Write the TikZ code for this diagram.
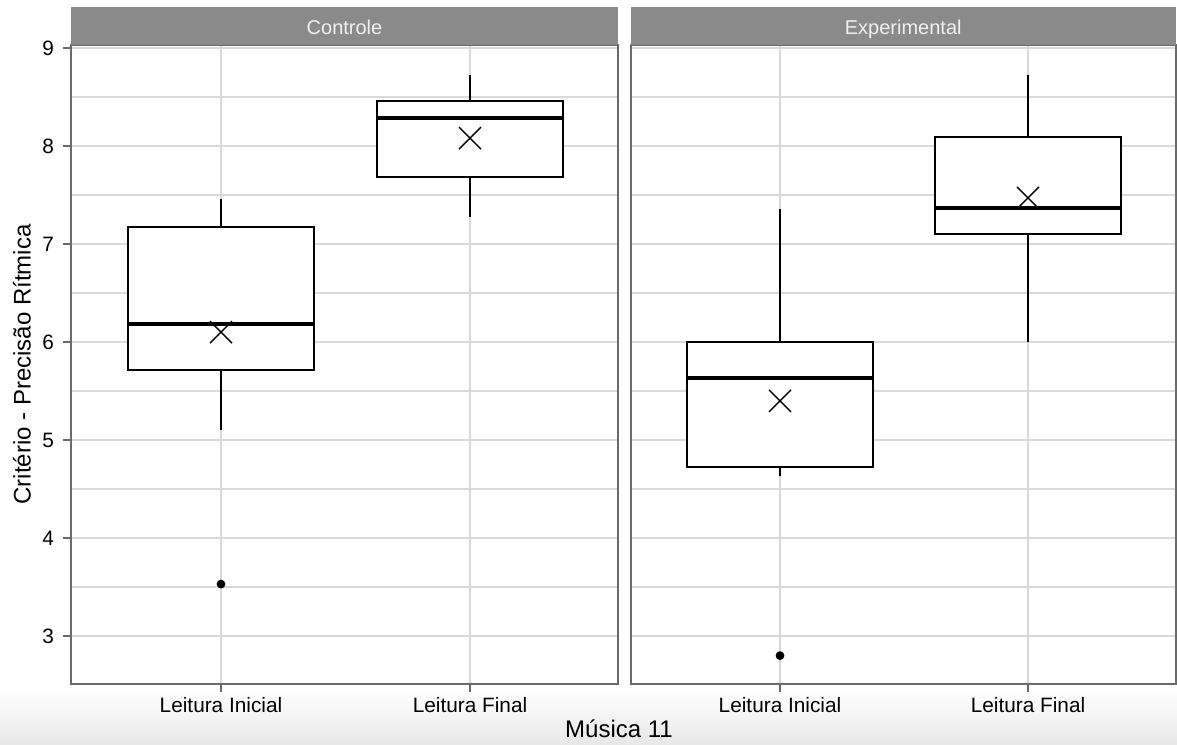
\documentclass[tikz,border=0pt]{standalone}
\usepackage{fontspec}
\setmainfont{Liberation Sans}
\definecolor{stripgray}{HTML}{8A8A8A}
\definecolor{gridgray}{HTML}{D9D9D9}
\definecolor{framegray}{HTML}{6A6A6A}
% x, lower whisker, q1, median, q3, upper whisker, mean
\newcommand{\bxplot}[7]{%
  \draw[whisker] (#1,#2) -- (#1,#3);
  \draw[whisker] (#1,#5) -- (#1,#6);
  \draw[boxline] ({#1-93},#3) rectangle ({#1+93},#5);
  \draw[medianline] ({#1-93},#4) -- ({#1+93},#4);
  \draw[meanmark] (#1,#7) ++(-5.5pt,-5.5pt) -- ++(11pt,11pt)
                  (#1,#7) ++(-5.5pt,5.5pt) -- ++(11pt,-11pt);
}
\begin{document}
\begin{tikzpicture}[x=0.5pt, y=49pt]
        \tikzstyle{grid} = [gridgray, line width=0.9pt]
        \tikzstyle{panel} = [framegray, line width=1pt]
        \tikzstyle{strip} = [fill=stripgray]
        \tikzstyle{whisker} = [line width=1pt]
        \tikzstyle{boxline} = [line width=1pt, fill=white]
        \tikzstyle{medianline} = [line width=2pt]
        \tikzstyle{meanmark} = [line width=0.7pt]
        \tikzstyle{ticklab} = [font=\fontsize{10.4}{12}\selectfont]
        \tikzstyle{striplab} = [font=\fontsize{10}{12}\selectfont, text=white!94!black, anchor=base]
        \tikzstyle{title} = [font=\fontsize{12}{14}\selectfont]

                \useasboundingbox (0,1.898) rectangle (1177,9.49);
                \shade[top color=white, bottom color=black!9] (0,2.45) rectangle (1177,1.898);

                % panels
                \foreach \pl/\pr/\xa/\xb/\lab in {71/618/221/470/Controle, 631/1175.5/780/1028/Experimental} {
                    \fill[white] (\pl,2.51) rectangle (\pr,9.031);
                    \foreach \v in {3,...,9} \draw[grid] (\pl,\v) -- (\pr,\v);
                    \foreach \v in {3.5,4.5,...,8.5} \draw[grid] (\pl,\v) -- (\pr,\v);
                    \draw[grid] (\xa,2.51) -- (\xa,9.031);
                    \draw[grid] (\xb,2.51) -- (\xb,9.031);
                    \draw[panel] (\pl,2.51) rectangle (\pr,9.031);
                    \fill[strip] (\pl,9.031) rectangle (\pr,9.418);
                    \node (strip-\lab) [striplab] at ({(\pl+\pr)/2},9.14) {\lab};
                    \draw[panel] (\xa,2.51) -- (\xa,2.43);
                    \draw[panel] (\xb,2.51) -- (\xb,2.43);
                    \node (ini-\lab) [ticklab, anchor=base] at (\xa,2.22) {Leitura Inicial};
                    \node (fin-\lab) [ticklab, anchor=base] at (\xb,2.22) {Leitura Final};
                }

                % y axis
                \foreach \v in {3,...,9} {
                    \draw[panel] (63,\v) -- (71,\v);
                    \node (ytick\v) [ticklab, anchor=east] at (61,\v) {\v};
                }
                \node (ytitle) [title, rotate=90] at (22,5.77) {Critério - Precisão Rítmica};
                \node (xtitle) [title, anchor=base] at (619,1.96) {Música 11};

                % boxes
                \bxplot{221}{5.10}{5.71}{6.18}{7.17}{7.46}{6.10}
                \bxplot{470}{7.28}{7.68}{8.29}{8.46}{8.72}{8.08}
                \bxplot{780}{4.63}{4.72}{5.63}{6.00}{7.36}{5.40}
                \bxplot{1028}{6.00}{7.10}{7.37}{8.09}{8.72}{7.47}

                % outliers
                \fill (221,3.53) circle (2.2pt);
                \fill (780,2.80) circle (2.2pt);

\end{tikzpicture}
\end{document}
